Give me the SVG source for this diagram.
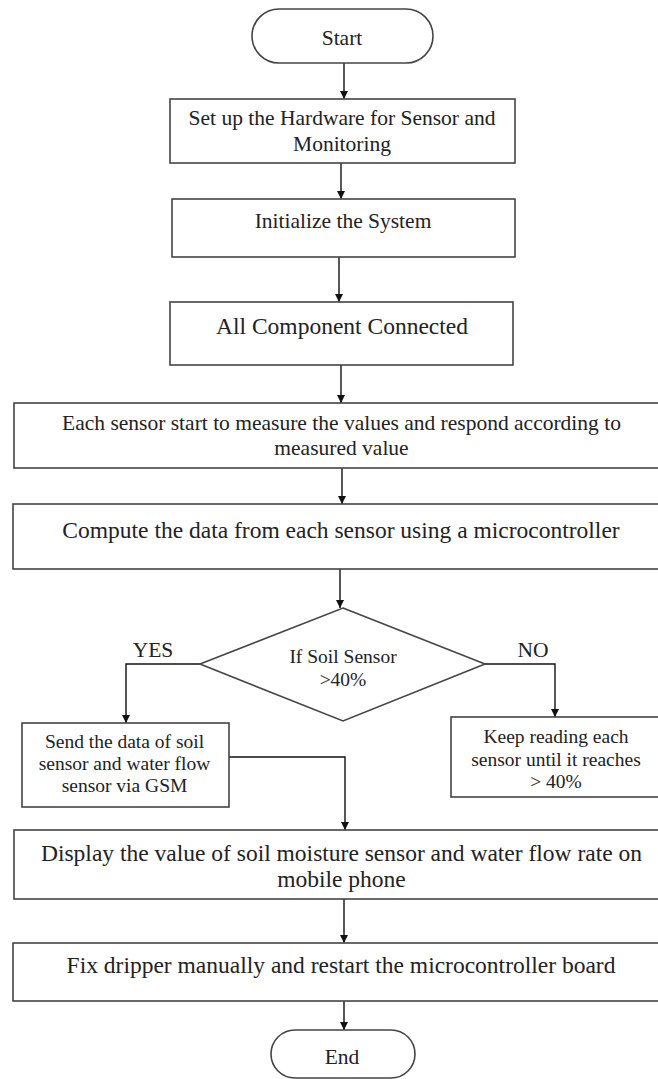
<svg xmlns="http://www.w3.org/2000/svg" width="658" height="1079" viewBox="0 0 658 1079">
<style>
.box{fill:#fff;stroke:#444;stroke-width:1.6}
.ln{fill:none;stroke:#111;stroke-width:1.4}
text{font-family:"Liberation Serif","Times New Roman",serif;fill:#222;text-anchor:middle}
.t21{font-size:21.5px}
.t23{font-size:23.5px}
.t19{font-size:19.5px}
</style>
<defs>
<marker id="ah" viewBox="0 0 10 10" refX="10" refY="5" markerWidth="8" markerHeight="8" markerUnits="userSpaceOnUse" orient="auto">
<path d="M0,0 L10,5 L0,10 z" fill="#111"/>
</marker>
</defs>
<rect width="658" height="1079" fill="#fff"/>
<g id="connectors">
<line class="ln" x1="344" y1="63" x2="344" y2="99" marker-end="url(#ah)"/>
<line class="ln" x1="341" y1="163" x2="341" y2="199" marker-end="url(#ah)"/>
<line class="ln" x1="339" y1="257" x2="339" y2="302" marker-end="url(#ah)"/>
<line class="ln" x1="341" y1="365" x2="341" y2="403" marker-end="url(#ah)"/>
<line class="ln" x1="342" y1="468" x2="342" y2="504" marker-end="url(#ah)"/>
<line class="ln" x1="340" y1="569" x2="340" y2="608" marker-end="url(#ah)"/>
<polyline class="ln" points="200,664 126,664 126,723" marker-end="url(#ah)"/>
<polyline class="ln" points="485,664 555,664 555,717" marker-end="url(#ah)"/>
<polyline class="ln" points="229,757 345,757 345,830" marker-end="url(#ah)"/>
<line class="ln" x1="344" y1="899" x2="344" y2="943" marker-end="url(#ah)"/>
<line class="ln" x1="344" y1="1001" x2="344" y2="1030" marker-end="url(#ah)"/>
</g>
<g id="start">
<rect class="box" x="252" y="9" width="181" height="54" rx="27"/>
<text class="t21" x="342" y="45">Start</text>
</g>
<g id="setup">
<rect class="box" x="170" y="99" width="345" height="64"/>
<text class="t21" x="342" y="125">Set up the Hardware for Sensor and</text>
<text class="t21" x="342" y="151">Monitoring</text>
</g>
<g id="init">
<rect class="box" x="172" y="199" width="343" height="58"/>
<text class="t21" x="343" y="228">Initialize the System</text>
</g>
<g id="connected">
<rect class="box" x="170" y="302" width="343" height="63"/>
<text class="t23" x="342" y="334">All Component Connected</text>
</g>
<g id="measure">
<rect class="box" x="14" y="403" width="660" height="65"/>
<text class="t21" x="341.5" y="430">Each sensor start to measure the values and respond according to</text>
<text class="t21" x="341.5" y="455">measured value</text>
</g>
<g id="compute">
<rect class="box" x="13" y="504" width="660" height="65"/>
<text class="t23" x="341" y="538">Compute the data from each sensor using a microcontroller</text>
</g>
<g id="decision">
<polygon class="box" points="343,608 485,664 343,721 200,664"/>
<text class="t19" x="343" y="663">If Soil Sensor</text>
<text class="t19" x="343" y="686">&gt;40%</text>
<text class="t21" x="153" y="657">YES</text>
<text class="t21" x="533" y="657">NO</text>
</g>
<g id="send">
<rect class="box" x="22" y="723" width="207" height="84"/>
<text class="t19" x="124.5" y="748">Send the data of soil</text>
<text class="t19" x="124.5" y="770">sensor and water flow</text>
<text class="t19" x="124.5" y="792">sensor via GSM</text>
</g>
<g id="keep">
<rect class="box" x="451" y="717" width="220" height="80"/>
<text class="t19" x="556" y="743">Keep reading each</text>
<text class="t19" x="556" y="766">sensor until it reaches</text>
<text class="t19" x="556" y="788">&gt; 40%</text>
</g>
<g id="display">
<rect class="box" x="14" y="830" width="660" height="69"/>
<text class="t23" x="341.5" y="861">Display the value of soil moisture sensor and water flow rate on</text>
<text class="t23" x="341.5" y="887">mobile phone</text>
</g>
<g id="fix">
<rect class="box" x="13" y="943" width="660" height="58"/>
<text class="t23" x="341" y="973">Fix dripper manually and restart the microcontroller board</text>
</g>
<g id="end">
<rect class="box" x="271" y="1030" width="144" height="48" rx="24"/>
<text class="t21" x="342" y="1064">End</text>
</g>
</svg>
